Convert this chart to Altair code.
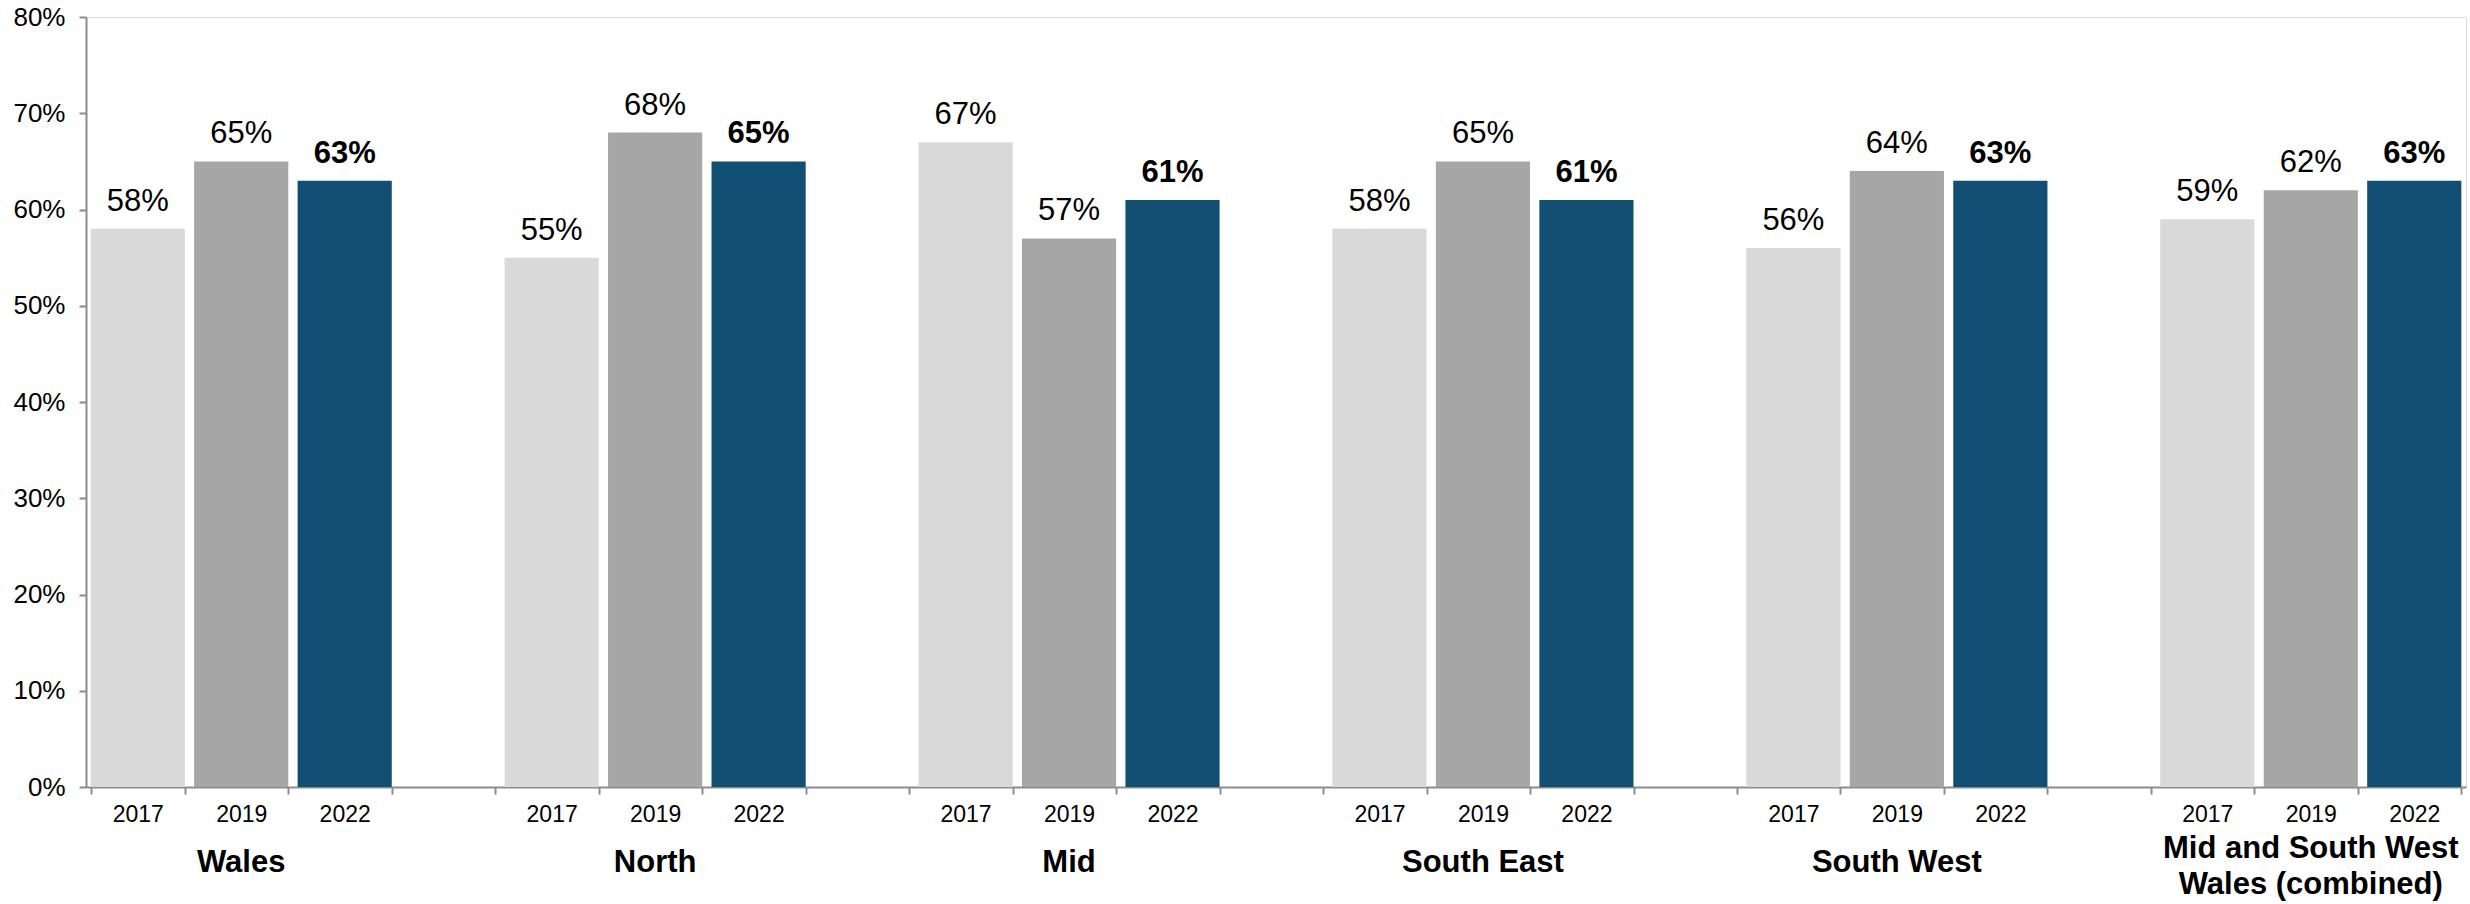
import altair as alt
import pandas as pd

regions = ["Wales", "North", "Mid", "South East", "South West",
           "Mid and South West Wales (combined)"]
region_labels = ["Wales", "North", "Mid", "South East", "South West",
                 "Mid and South West\nWales (combined)"]
years = ["2017", "2019", "2022"]
v2017 = [58, 55, 67, 58, 56, 59]
v2019 = [65, 68, 57, 65, 64, 62]
v2022 = [63, 65, 61, 61, 63, 63]
y_ticks = [0, 10, 20, 30, 40, 50, 60, 70, 80]
colors = ["#d9d9d9", "#a6a6a6", "#124f73"]

rows = []
domain = []
for i, r in enumerate(regions):
    if i > 0:
        domain.append(f"gap{i}")
    for y, vals in zip(years, [v2017, v2019, v2022]):
        key = f"{r}|{y}"
        domain.append(key)
        rows.append({"key": key, "region": r, "year": y, "value": vals[i],
                     "label": f"{vals[i]}%"})
df = pd.DataFrame(rows)
grp = pd.DataFrame({"key": [f"{r}|2019" for r in regions], "label": region_labels})
grp["multi"] = grp["label"].str.contains("\n")

FONT = "Liberation Sans"
W, H = 2380, 770

x_enc = alt.X(
    "key:N",
    scale=alt.Scale(domain=domain, paddingInner=0.09, paddingOuter=0.045),
    axis=alt.Axis(
        title=None, labelAngle=0, tickBand="extent",
        labelExpr="indexof(datum.label, '|') >= 0 ? split(datum.label, '|')[1] : ''",
        labelFont=FONT, labelFontSize=23, labelColor="#000000", labelPadding=9,
        domainColor="#8c8c8c", domainWidth=2, tickColor="#8c8c8c", tickWidth=2,
        tickSize=7, grid=False,
    ),
)
y_enc = alt.Y(
    "value:Q",
    scale=alt.Scale(domain=[0, 80], nice=False),
    axis=alt.Axis(
        title=None, values=y_ticks, labelExpr="datum.value + '%'",
        labelFont=FONT, labelFontSize=26, labelColor="#000000", labelPadding=14,
        domainColor="#8c8c8c", domainWidth=2, tickColor="#8c8c8c", tickWidth=2,
        tickSize=7, grid=False,
    ),
)

base = alt.Chart(df)
bars = base.mark_bar().encode(
    x=x_enc, y=y_enc,
    color=alt.Color("year:N", scale=alt.Scale(domain=years, range=colors), legend=None),
)
txt_normal = base.transform_filter("datum.year != '2022'").mark_text(
    baseline="bottom", dy=-11, font=FONT, fontSize=31, color="#000000"
).encode(x=x_enc, y=y_enc, text="label:N")
txt_bold = base.transform_filter("datum.year == '2022'").mark_text(
    baseline="bottom", dy=-11, font=FONT, fontSize=31, fontWeight="bold", color="#000000"
).encode(x=x_enc, y=y_enc, text="label:N")
grp_single = alt.Chart(grp).transform_filter("!datum.multi").mark_text(
    baseline="middle", font=FONT, fontSize=31, fontWeight="bold", color="#000000"
).encode(x=x_enc, y=alt.value(846), text="label:N")
grp_multi = alt.Chart(grp).transform_filter("datum.multi").mark_text(
    baseline="middle", font=FONT, fontSize=31, fontWeight="bold", color="#000000",
    lineBreak="\n", lineHeight=36
).encode(x=x_enc, y=alt.value(832), text="label:N")

chart = alt.layer(bars, txt_normal, txt_bold, grp_single, grp_multi).properties(
    width=W, height=H,
    autosize=alt.AutoSizeParams(type="none"),
    padding={"left": 86, "top": 17, "right": 4, "bottom": 117},
).configure_view(stroke=None).configure(background="white")

chart.save("out.html", embed_options={"renderer": "svg", "actions": False})
